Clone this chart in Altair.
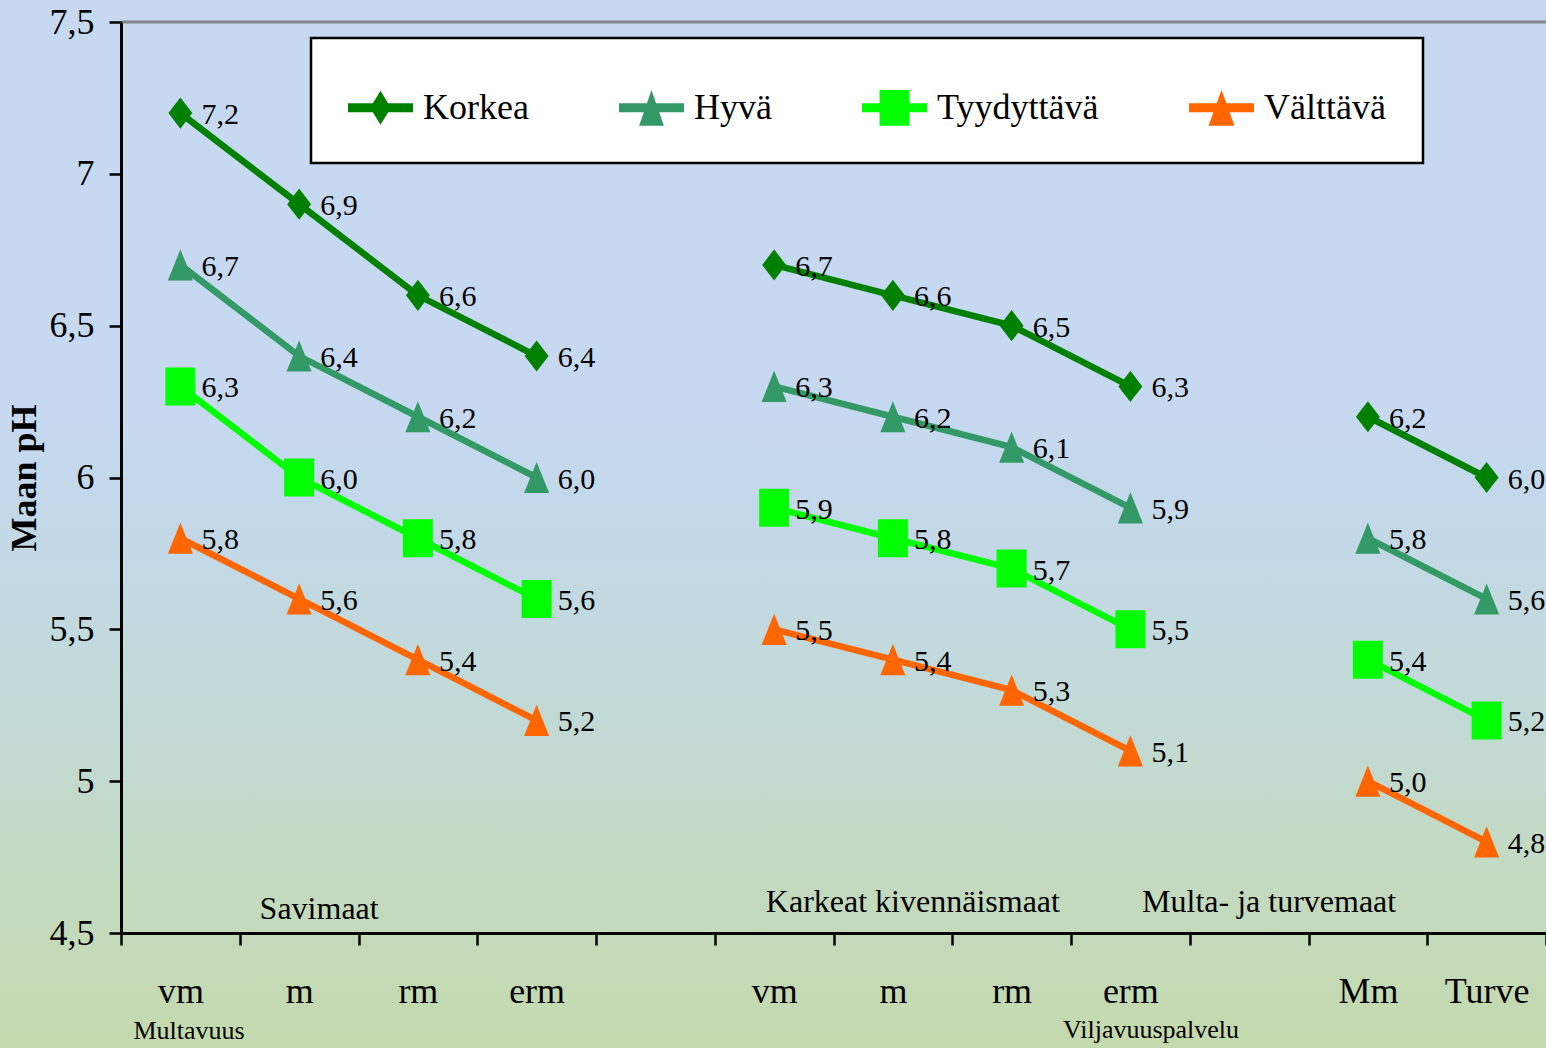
import json
import altair as alt
import pandas as pd

# ---------------- data ----------------
positions = list(range(12))
tick_labels = ["vm", "m", "rm", "erm", "", "vm", "m", "rm", "erm", "", "Mm", "Turve"]
soil_group = [0, 0, 0, 0, None, 1, 1, 1, 1, None, 2, 2]
series = ["Korkea", "Hyvä", "Tyydyttävä", "Välttävä"]
korkea = [7.2, 6.9, 6.6, 6.4, None, 6.7, 6.6, 6.5, 6.3, None, 6.2, 6.0]
hyva = [6.7, 6.4, 6.2, 6.0, None, 6.3, 6.2, 6.1, 5.9, None, 5.8, 5.6]
tyydyttava = [6.3, 6.0, 5.8, 5.6, None, 5.9, 5.8, 5.7, 5.5, None, 5.4, 5.2]
valttava = [5.8, 5.6, 5.4, 5.2, None, 5.5, 5.4, 5.3, 5.1, None, 5.0, 4.8]
colors = ["#008000", "#339966", "#00FF00", "#FF6600"]

group_names = ["Savimaat", "Karkeat kivennäismaat", "Multa- ja turvemaat"]
group_label_pos = [1, 6, 9]
group_label_y = [4.546, 4.569, 4.569]
y_ticks = [4.5, 5, 5.5, 6, 6.5, 7, 7.5]

values_by_series = [korkea, hyva, tyydyttava, valttava]

rows = []
for s, vals in zip(series, values_by_series):
    for p, g, v in zip(positions, soil_group, vals):
        if v is None:
            continue
        rows.append({"pos": p, "series": s, "grp": f"{s}-{g}", "value": v,
                     "label": f"{v:.1f}".replace(".", ",")})
df = pd.DataFrame(rows)
gdf = pd.DataFrame({"pos": group_label_pos, "value": group_label_y, "name": group_names})
one = pd.DataFrame({"a": [0]})

# ---------------- style ----------------
W, H = 1425, 911
FONT = "Liberation Serif, Tinos, Times New Roman, Times, DejaVu Serif, serif"

marker_paths = [
    "M0,-0.82L0.63,0L0,0.82L-0.63,0Z",
    "M0,-0.82L0.66,0.82L-0.66,0.82Z",
    "M-0.79,-1L0.79,-1L0.79,1L-0.79,1Z",
    "M0,-0.82L0.66,0.82L-0.66,0.82Z",
]
bar = "M-1,-0.14L1,-0.14L1,0.14L-1,0.14Z"
legend_paths = [
    bar + "M0,-0.52L0.32,0L0,0.52L-0.32,0Z",
    bar + "M0,-0.55L0.38,0.55L-0.38,0.55Z",
    bar + "M-0.46,-0.55L0.46,-0.55L0.46,0.55L-0.46,0.55Z",
    bar + "M0,-0.55L0.4,0.55L-0.4,0.55Z",
]

x_enc = alt.X(
    "pos:O",
    scale=alt.Scale(type="band", domain=positions, paddingInner=0, paddingOuter=0),
    axis=alt.Axis(
        labelExpr=json.dumps(tick_labels) + "[datum.value]",
        labelAngle=0,
        tickBand="extent",
        title="Multavuus",
        titleX=12,
        titleY=105,
        titleAlign="left",
        titleBaseline="alphabetic",
        titleFontSize=26,
        titleFontWeight="normal",
        labelPadding=29,
        labelFontSize=36,
        zindex=1,
    ),
)
y_enc = alt.Y(
    "value:Q",
    scale=alt.Scale(domain=[4.5, 7.5], nice=False, zero=False),
    axis=alt.Axis(
        values=y_ticks,
        labelExpr="replace(format(datum.value, '.1~f'), '.', ',')",
        title="Maan pH",
        titleFontSize=36,
        titleFontWeight="bold",
        titlePadding=6,
        labelPadding=15,
        labelFontSize=36,
        zindex=1,
    ),
)
color_scale = alt.Scale(domain=series, range=colors)

bg = alt.Chart(one).mark_rect(
    fill=alt.Gradient(
        gradient="linear", x1=0, x2=0, y1=0, y2=1,
        stops=[
            alt.GradientStop(offset=0, color="#C6D9F1"),
            alt.GradientStop(offset=0.40, color="#C6D9F0"),
            alt.GradientStop(offset=0.475, color="#C3D8EA"),
            alt.GradientStop(offset=0.665, color="#C2DAD8"),
            alt.GradientStop(offset=0.81, color="#C3DAC4"),
            alt.GradientStop(offset=1, color="#C4D9AC"),
        ],
    )
).encode(x=alt.value(-121), x2=alt.value(W + 10), y=alt.value(-22), y2=alt.value(H + 120))

top_rule = alt.Chart(one).mark_rule(color="#878787", strokeWidth=3).encode(
    x=alt.value(0), x2=alt.value(W), y=alt.value(0)
)

base = alt.Chart(df)

lines = base.mark_line(strokeWidth=6.5).encode(
    x=x_enc, y=y_enc,
    color=alt.Color("series:N", scale=color_scale, legend=None),
    detail="grp:N",
)
points = base.mark_point(filled=True, size=1444, opacity=1).encode(
    x=x_enc, y=y_enc,
    color=alt.Color("series:N", scale=color_scale, legend=None),
    shape=alt.Shape("series:N", scale=alt.Scale(domain=series, range=marker_paths), legend=None),
)
labels = base.mark_text(
    align="left", baseline="middle", dx=21, dy=2, fontSize=30, font=FONT, color="black"
).encode(x=x_enc, y=y_enc, text="label:N")

group_text = alt.Chart(gdf).mark_text(
    align="center", baseline="alphabetic", dx=20, fontSize=32, font=FONT, color="black"
).encode(x=x_enc, y=y_enc, text="name:N")

leg = alt.Legend(
    orient="none", legendX=190, legendY=16, direction="horizontal", columns=4,
    title=None, symbolSize=4225, symbolStrokeWidth=0, symbolOpacity=1,
    labelFontSize=36, labelFont=FONT, labelColor="black", labelOffset=10,
    labelLimit=400, columnPadding=90, padding=37,
    fillColor="white", strokeColor="black",
)
legend_layer = base.transform_filter("false").mark_point(filled=True, opacity=1).encode(
    x=x_enc, y=y_enc,
    color=alt.Color("series:N", scale=color_scale, legend=leg),
    shape=alt.Shape("series:N", scale=alt.Scale(domain=series, range=legend_paths), legend=leg),
)

chart = (
    alt.layer(bg, top_rule, lines, points, labels, group_text, legend_layer)
    .resolve_scale(color="independent", shape="independent")
    .properties(
        width=W, height=H,
        autosize=alt.AutoSizeParams(type="none"),
        padding={"left": 121, "top": 22, "right": 0, "bottom": 115},
        background="#C6D9F0",
        title=alt.TitleParams(
            "Viljavuuspalvelu", orient="bottom", anchor="start", frame="group",
            dx=942, dy=-36, offset=0, fontSize=26, font=FONT, fontWeight="normal", color="black",
        ),
    )
    .configure_view(strokeWidth=0)
    .configure_axis(
        labelFont=FONT, titleFont=FONT, labelColor="black", titleColor="black",
        domainColor="black", domainWidth=3, tickColor="black", tickWidth=2.5,
        tickSize=12, grid=False,
    )
    .configure_legend(strokeWidth=2.5)
)

chart.save("out.html", embed_options={"renderer": "svg", "actions": False})
